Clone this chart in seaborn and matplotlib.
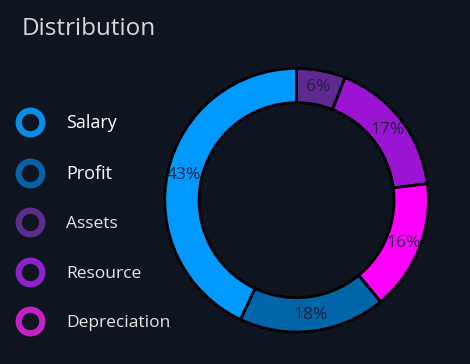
import matplotlib
matplotlib.use('Agg')
import matplotlib.pyplot as plt
from matplotlib.lines import Line2D
import seaborn as sns

# legend order
categories = ['Salary', 'Profit', 'Assets', 'Resource', 'Depreciation']
shares = [43, 18, 6, 17, 16]
slice_colors = ['#0099ff', '#0066a8', '#5f2a8f', '#9b14d4', '#ff00ff']
legend_colors = ['#0a8de6', '#0a62a6', '#5c2d8a', '#8f22cc', '#c620c9']

# clockwise from 12 o'clock
pie_order = ['Assets', 'Resource', 'Depreciation', 'Profit', 'Salary']

bg = '#0e1520'
sns.set_theme(style='dark', rc={'figure.facecolor': bg, 'axes.facecolor': bg})
plt.rcParams['font.family'] = ['Open Sans', 'DejaVu Sans']

fig = plt.figure(figsize=(4.7, 3.64), dpi=100)

idx = [categories.index(c) for c in pie_order]
vals = [shares[i] for i in idx]
cols = [slice_colors[i] for i in idx]

ax = fig.add_axes([0.345, 0.08, 0.572, 0.74])
wedges, texts, autotexts = ax.pie(
    vals, colors=cols, startangle=90, counterclock=False,
    autopct='%d%%', pctdistance=0.875,
    wedgeprops=dict(width=0.26, edgecolor='black', linewidth=2),
    textprops=dict(color='#20203e', fontsize=12.5))
ax.set_xlim(-1.02, 1.02)
ax.set_ylim(-1.02, 1.02)
ax.set_aspect('equal')

fig.text(0.045, 0.92, 'Distribution', color='#d8d8d8', fontsize=17.5, va='center')

handles = [Line2D([], [], linestyle='none', marker='o', markersize=17,
                  markerfacecolor=bg, markeredgecolor=c, markeredgewidth=4.5)
           for c in legend_colors]
leg = fig.legend(handles, categories, loc='upper left', bbox_to_anchor=(0.013, 0.705),
                 frameon=False, labelspacing=1.9, handletextpad=1.05, borderaxespad=0,
                 prop={'size': 12.5})
for i, t in enumerate(leg.get_texts()):
    if i < 2:
        t.set_color('#ffffff')
        t.set_fontsize(13)
    else:
        t.set_color('#e6e6e6')

fig.savefig('out.png', dpi=100, facecolor=bg)
